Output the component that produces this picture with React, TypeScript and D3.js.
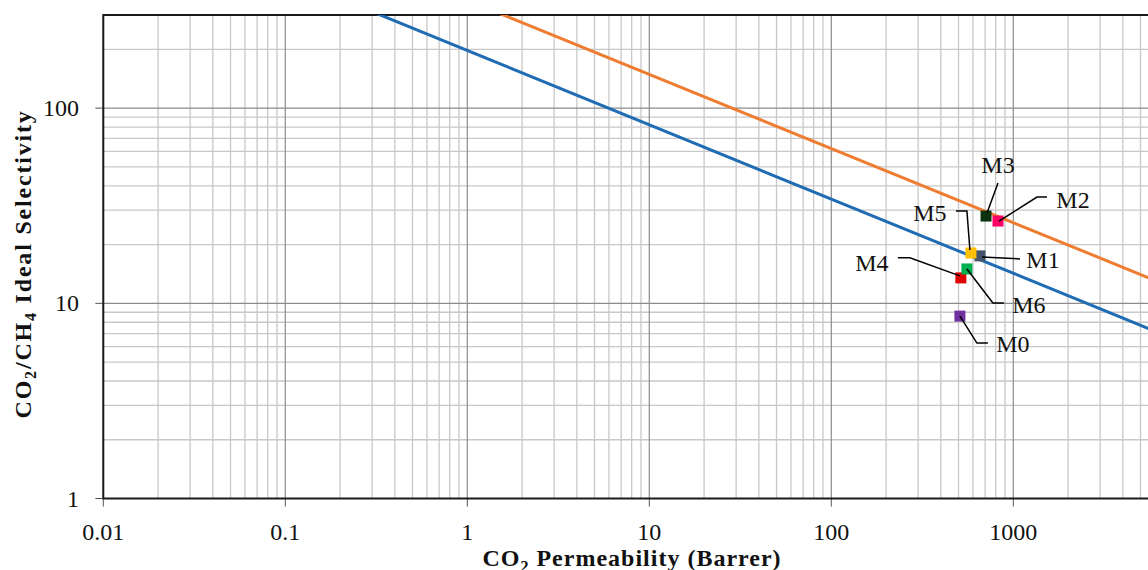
import React from "react";
import * as d3 from "d3";

// ---- data ----
const pointNames = ["M0", "M1", "M2", "M3", "M4", "M5", "M6"];
const permeability = [509, 656, 824, 708, 515, 585, 556];
const selectivity = [8.6, 17.5, 26.4, 28.0, 13.5, 18.1, 15.0];
const pointColors = ["#7030A0", "#44546A", "#FF0066", "#0B3310", "#E00000", "#FFC000", "#00B050"];

// upper bounds (Robeson 1991 / 2008), end points at the axis extents
const bound1991 = [
  { x: 0.01, y: 1139 },
  { x: 10000, y: 5.93 },
];
const bound2008 = [
  { x: 0.01, y: 2049 },
  { x: 10000, y: 10.8 },
];

const xTickLabels = ["0.01", "0.1", "1", "10", "100", "1000"];
const yTickLabels = ["1", "10", "100"];

// label layout (pixel offsets from each point)
const labelLayout: Record<string, { leader: [number, number][]; label: [number, number] }> = {
  M0: { leader: [[0, 0], [17, 27], [28, 27]], label: [53, 28] },
  M1: { leader: [[2, 1], [40, 3]], label: [63, 4] },
  M2: { leader: [[1, 0], [39, -24], [49, -24]], label: [75, -21] },
  M3: { leader: [[1, -3], [12, -33]], label: [12, -51] },
  M4: { leader: [[-1, -2], [-51, -20], [-63, -20]], label: [-89, -15] },
  M5: { leader: [[-1, -3], [-4, -42], [-15, -42]], label: [-41, -40] },
  M6: { leader: [[0, 0], [26, 34], [37, 34]], label: [62, 36] },
};

const W = 1148;
const H = 570;
const left = 103.3;
const decadeW = 182;
const top = 15;
const bottom = 498.5;

const x = d3.scaleLog().domain([0.01, 10000]).range([left, left + 6 * decadeW]);
const y = d3.scaleLog().domain([1, 300]).range([bottom, top]);

const FONT = "'Liberation Serif', 'Times New Roman', serif";

export default function App() {
  const [x0, x1] = x.range();
  const xMajor = [0.01, 0.1, 1, 10, 100, 1000, 10000];
  const xMinor: number[] = [];
  for (let d = 0; d < 6; d++) for (let k = 2; k <= 9; k++) xMinor.push(k * xMajor[d]);
  const yMajor = [1, 10, 100];
  const yMinor: number[] = [];
  for (const m of yMajor) for (let k = 2; k <= 9; k++) if (k * m <= 300) yMinor.push(k * m);

  const line = d3
    .line<{ x: number; y: number }>()
    .x((d) => x(d.x))
    .y((d) => y(d.y));

  const sq = 11;

  return (
    <div style={{ position: "absolute", left: 0, top: 0, width: W, height: H, overflow: "hidden" }}>
      <svg width={W} height={H} style={{ display: "block", background: "#fff" }}>
        <defs>
          <clipPath id="plot">
            <rect x={x0} y={top} width={x1 - x0} height={bottom - top} />
          </clipPath>
        </defs>
        {/* minor grid */}
        <g stroke="#c8c8c8" strokeWidth={1.3}>
          {xMinor.map((v) => (
            <line key={"xm" + v} x1={x(v)} x2={x(v)} y1={top} y2={bottom} />
          ))}
          {yMinor.map((v) => (
            <line key={"ym" + v} x1={x0} x2={x1} y1={y(v)} y2={y(v)} />
          ))}
        </g>
        {/* major grid */}
        <g stroke="#8c8c8c" strokeWidth={1.2}>
          {xMajor.map((v) => (
            <line key={"xM" + v} x1={x(v)} x2={x(v)} y1={top} y2={bottom} />
          ))}
          {yMajor.map((v) => (
            <line key={"yM" + v} x1={x0} x2={x1} y1={y(v)} y2={y(v)} />
          ))}
        </g>
        {/* ticks */}
        <g stroke="#555" strokeWidth={1}>
          {xMajor.map((v) => (
            <line key={"xt" + v} x1={x(v)} x2={x(v)} y1={bottom} y2={bottom + 8} />
          ))}
          {yMajor.map((v) => (
            <line key={"yt" + v} x1={x0 - 8} x2={x0} y1={y(v)} y2={y(v)} />
          ))}
        </g>
        {/* frame */}
        <rect x={x0} y={top} width={x1 - x0} height={bottom - top} fill="none" stroke="#1a1a1a" strokeWidth={2} />
        {/* bound lines */}
        <g clipPath="url(#plot)" fill="none" strokeWidth={3}>
          <path d={line(bound1991) || ""} stroke="#1F6CB4" />
          <path d={line(bound2008) || ""} stroke="#EE7D31" />
        </g>
        {/* tick labels */}
        <g fontFamily={FONT} fontSize={24} fill="#111">
          {xTickLabels.map((t) => (
            <text key={"xl" + t} x={x(+t)} y={540} textAnchor="middle">
              {t}
            </text>
          ))}
          {yTickLabels.map((t) => (
            <text key={"yl" + t} x={79} y={y(+t) + 8} textAnchor="end">
              {t}
            </text>
          ))}
        </g>
        {/* points */}
        <g>
          {pointNames.map((n, i) => (
            <rect
              key={n}
              x={x(permeability[i]) - sq / 2}
              y={y(selectivity[i]) - sq / 2}
              width={sq}
              height={sq}
              fill={pointColors[i]}
            />
          ))}
        </g>
        {/* leaders and labels */}
        <g fontFamily={FONT} fontSize={24} fill="#111">
          {pointNames.map((n, i) => {
            const px = x(permeability[i]);
            const py = y(selectivity[i]);
            const L = labelLayout[n];
            const pts = L.leader.map(([dx, dy]) => `${px + dx},${py + dy}`).join(" ");
            return (
              <g key={"l" + n}>
                <polyline points={pts} fill="none" stroke="#000" strokeWidth={1.5} />
                <text x={px + L.label[0]} y={py + L.label[1] + 8} textAnchor="middle">
                  {n}
                </text>
              </g>
            );
          })}
        </g>
        {/* axis titles */}
        <text
          x={632}
          y={566}
          textAnchor="middle"
          fontFamily={FONT}
          fontSize={24}
          fontWeight="bold"
          letterSpacing={1}
          fill="#111"
        >
          CO<tspan fontSize={16} dy={6}>2</tspan>
          <tspan dy={-6}> Permeability  (Barrer)</tspan>
        </text>
        <text
          transform={`translate(31,264) rotate(-90)`}
          textAnchor="middle"
          fontFamily={FONT}
          fontSize={24}
          fontWeight="bold"
          letterSpacing={1.8}
          fill="#111"
        >
          CO<tspan fontSize={16} dy={5}>2</tspan>
          <tspan dy={-5}>/CH</tspan>
          <tspan fontSize={16} dy={5}>4</tspan>
          <tspan dy={-5}> Ideal Selectivity</tspan>
        </text>
      </svg>
    </div>
  );
}
